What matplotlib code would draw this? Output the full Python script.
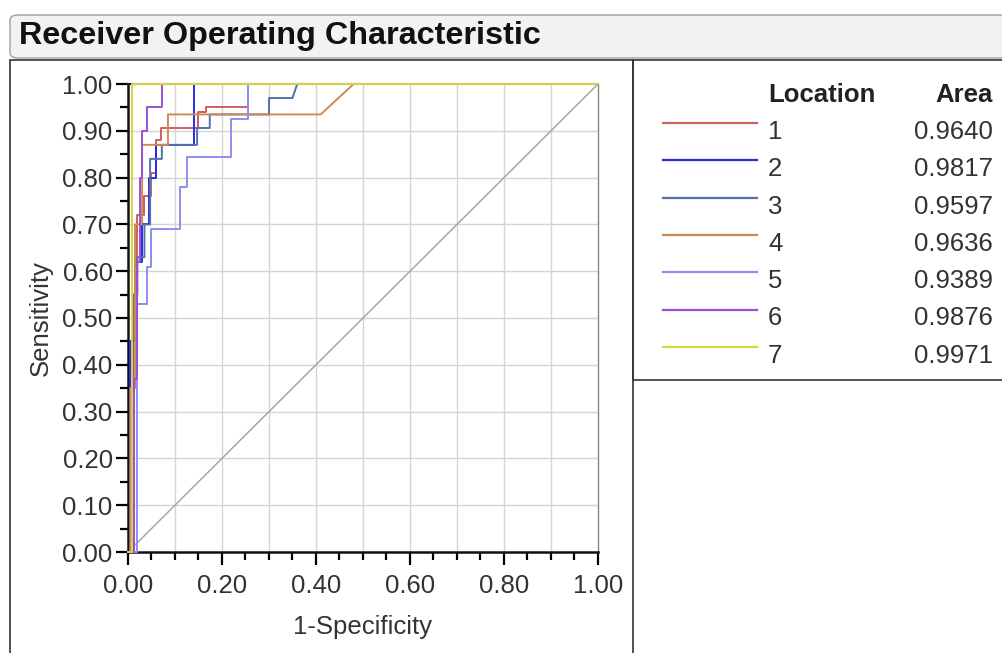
import matplotlib
matplotlib.use("Agg")
import matplotlib.pyplot as plt
from matplotlib.patches import Rectangle, FancyBboxPatch
from matplotlib.lines import Line2D
from matplotlib.ticker import MultipleLocator, FormatStrFormatter
import numpy as np

plt.rcParams['font.family'] = ['Liberation Sans', 'DejaVu Sans']

# ROC data (1-specificity, sensitivity)
locations = ['1', '2', '3', '4', '5', '6', '7']
areas = ['0.9640', '0.9817', '0.9597', '0.9636', '0.9389', '0.9876', '0.9971']
colors_ = ['#d0605c', '#2a2ae6', '#4f72a8', '#cf8a52', '#8d8df2', '#9a50d8', '#d6d640']

fpr_1 = [0, 0.01, 0.01, 0.02, 0.02, 0.035, 0.035, 0.05, 0.05, 0.06, 0.06, 0.07, 0.07, 0.15, 0.15, 0.165, 0.165, 0.255, 0.255, 1]
tpr_1 = [0, 0, 0.55, 0.55, 0.72, 0.72, 0.76, 0.76, 0.81, 0.81, 0.88, 0.88, 0.905, 0.905, 0.94, 0.94, 0.95, 0.95, 1, 1]
fpr_2 = [0, 0.005, 0.005, 0.015, 0.015, 0.03, 0.03, 0.045, 0.045, 0.06, 0.06, 0.14, 0.14, 1]
tpr_2 = [0, 0, 0.45, 0.45, 0.62, 0.62, 0.70, 0.70, 0.80, 0.80, 0.87, 0.87, 1, 1]
fpr_3 = [0, 0.01, 0.01, 0.02, 0.02, 0.035, 0.035, 0.047, 0.047, 0.072, 0.072, 0.147, 0.147, 0.174, 0.174, 0.30, 0.30, 0.35, 0.36, 1]
tpr_3 = [0, 0, 0.55, 0.55, 0.63, 0.63, 0.70, 0.70, 0.84, 0.84, 0.87, 0.87, 0.906, 0.906, 0.935, 0.935, 0.97, 0.97, 1, 1]
fpr_4 = [0, 0.005, 0.005, 0.015, 0.015, 0.03, 0.03, 0.085, 0.085, 0.41, 0.48, 1]
tpr_4 = [0, 0, 0.35, 0.35, 0.70, 0.70, 0.87, 0.87, 0.935, 0.935, 1, 1]
fpr_5 = [0, 0.02, 0.02, 0.04, 0.04, 0.05, 0.05, 0.11, 0.11, 0.125, 0.125, 0.22, 0.22, 0.255, 0.255, 1]
tpr_5 = [0, 0, 0.53, 0.53, 0.61, 0.61, 0.69, 0.69, 0.78, 0.78, 0.845, 0.845, 0.925, 0.925, 1, 1]
fpr_6 = [0, 0.012, 0.012, 0.02, 0.02, 0.025, 0.025, 0.03, 0.03, 0.04, 0.04, 0.072, 0.072, 1]
tpr_6 = [0, 0, 0.37, 0.37, 0.62, 0.62, 0.80, 0.80, 0.90, 0.90, 0.95, 0.95, 1, 1]
fpr_7 = [0, 0.008, 0.008, 1]
tpr_7 = [0, 0, 1, 1]

fprs = [fpr_1, fpr_2, fpr_3, fpr_4, fpr_5, fpr_6, fpr_7]
tprs = [tpr_1, tpr_2, tpr_3, tpr_4, tpr_5, tpr_6, tpr_7]

W, H = 1003, 653
fig = plt.figure(figsize=(W / 100, H / 100), dpi=100)
fig.patch.set_facecolor('white')


def fx(x):
    return x / W


def fy(y):
    return 1 - y / H


# title bar
fig.add_artist(FancyBboxPatch((fx(10), fy(58)), fx(1010) - fx(10), fy(15) - fy(58),
                              boxstyle='round,pad=0,rounding_size=0.008',
                              transform=fig.transFigure, facecolor='#f2f2f2',
                              edgecolor='#a0a0a0', linewidth=1.0))
fig.text(fx(19), fy(36), 'Receiver Operating Characteristic', fontsize=23.3,
         fontweight='bold', va='center', ha='left', color='#111111')

# panel boxes
fig.add_artist(Rectangle((fx(10), fy(660)), fx(633) - fx(10), fy(60) - fy(660),
                         transform=fig.transFigure, facecolor='none',
                         edgecolor='#333333', linewidth=1.2))
fig.add_artist(Rectangle((fx(633), fy(380)), fx(1010) - fx(633), fy(60) - fy(380),
                         transform=fig.transFigure, facecolor='none',
                         edgecolor='#333333', linewidth=1.2))

ax = fig.add_axes([fx(128), fy(552), fx(598) - fx(128), fy(84) - fy(552)])
ax.set_xlim(0, 1)
ax.set_ylim(0, 1)

for g in np.arange(0.1, 1.0, 0.1):
    ax.axvline(g, color='#d4d4d4', linewidth=1.0, zorder=0)
    ax.axhline(g, color='#d4d4d4', linewidth=1.0, zorder=0)

ax.plot([0, 1], [0, 1], color='#a6a6a6', linewidth=1.1, zorder=1)

for i in range(7):
    ax.plot(fprs[i], tprs[i], color=colors_[i], linewidth=1.4, zorder=2 + i, clip_on=False)

ax.xaxis.set_major_locator(MultipleLocator(0.2))
ax.xaxis.set_minor_locator(MultipleLocator(0.05))
ax.yaxis.set_major_locator(MultipleLocator(0.1))
ax.yaxis.set_minor_locator(MultipleLocator(0.05))
ax.xaxis.set_major_formatter(FormatStrFormatter('%.2f'))
ax.yaxis.set_major_formatter(FormatStrFormatter('%.2f'))
ax.tick_params(which='major', direction='out', length=9, width=1.6, labelsize=18.5,
               labelcolor='#333333', pad=2)
ax.tick_params(axis='x', which='major', pad=7)
ax.tick_params(which='minor', direction='out', length=6, width=1.6)

for s in ['left', 'bottom']:
    ax.spines[s].set_linewidth(1.8)
    ax.spines[s].set_color('#111111')
ax.spines['top'].set_linewidth(1.5)
ax.spines['top'].set_color('#222222')
ax.spines['right'].set_linewidth(1.0)
ax.spines['right'].set_color('#888888')

ax.set_xlabel('1-Specificity', fontsize=18.5, color='#333333', labelpad=12)
ax.set_ylabel('Sensitivity', fontsize=18.5, color='#333333', labelpad=7)

# legend table
fig.text(fx(768), fy(95), 'Location', fontsize=18.5, fontweight='bold', ha='left', va='center', color='#222222')
fig.text(fx(993), fy(95), 'Area', fontsize=18.5, fontweight='bold', ha='right', va='center', color='#222222')
for i in range(7):
    yl = 123 + 37.3 * i
    fig.add_artist(Line2D([fx(663), fx(757)], [fy(yl), fy(yl)], color=colors_[i],
                          linewidth=1.6, transform=fig.transFigure))
    fig.text(fx(768), fy(yl + 9), locations[i], fontsize=18.5, ha='left', va='center', color='#333333')
    fig.text(fx(993), fy(yl + 9), areas[i], fontsize=18.5, ha='right', va='center', color='#333333')

fig.savefig('out.png', dpi=100)
